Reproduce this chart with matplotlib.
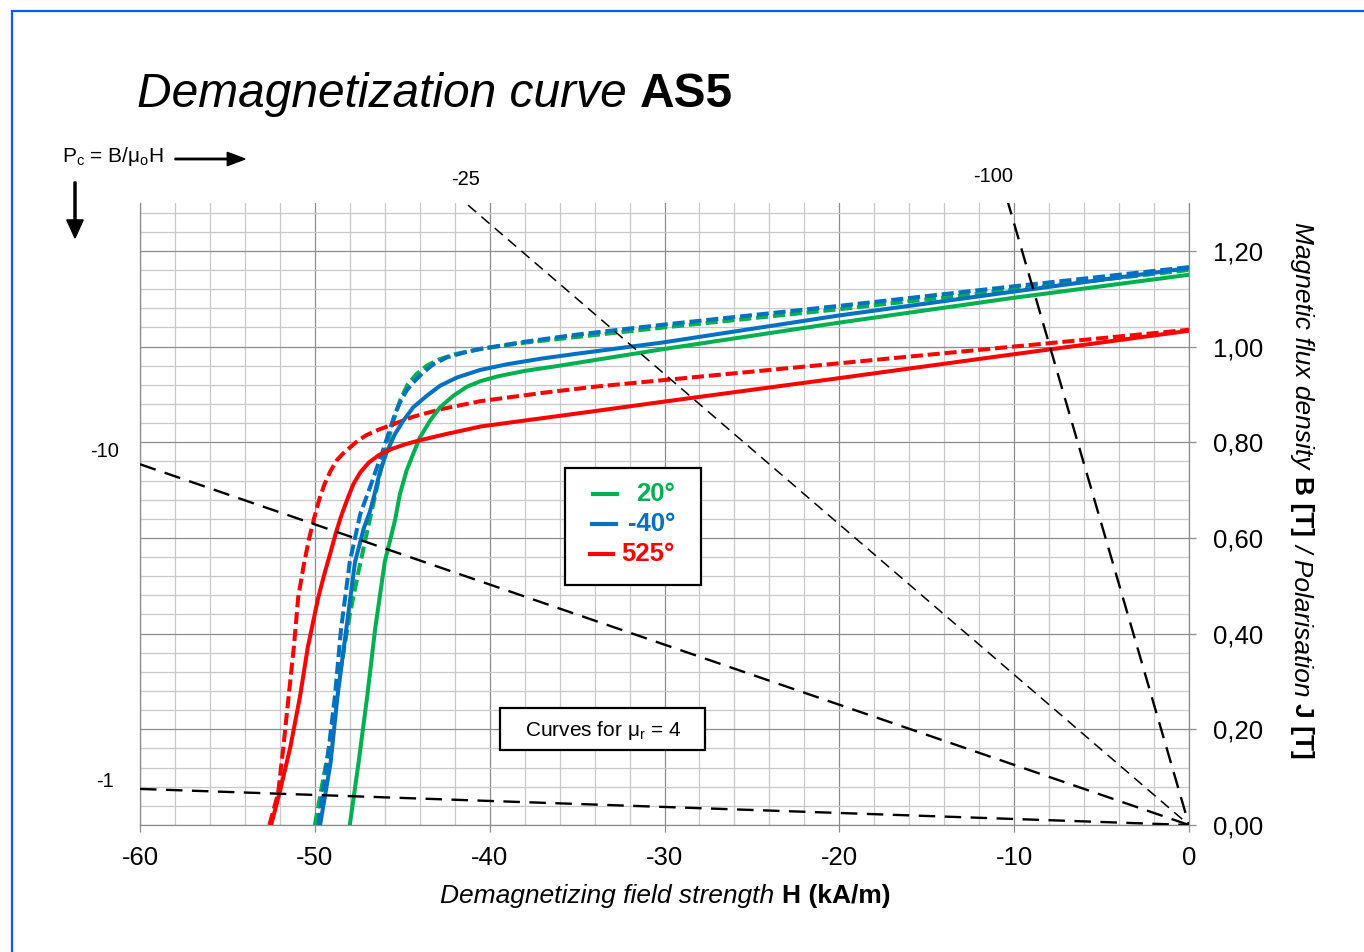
import numpy as np
import matplotlib
matplotlib.use("Agg")
import matplotlib.pyplot as plt
from matplotlib.patches import Rectangle, FancyArrow
from matplotlib.lines import Line2D
from matplotlib.ticker import MultipleLocator, FuncFormatter

plt.rcParams['font.family'] = ['Liberation Sans', 'DejaVu Sans']
plt.rcParams['mathtext.default'] = 'regular'
plt.rcParams['axes.unicode_minus'] = False

MU0 = 4e-7 * np.pi * 1e3   # T per kA/m

# ---- data (H in kA/m, B/J in T) ----
h_20_B = [-48.0, -47.5, -47.0, -46.55, -46.0, -45.42, -45.13, -44.75, -44.37, -43.99, -43.41,
          -42.84, -42.08, -41.3, -40.5, -39.5, -38.0, -36.0, -30.0, -20.0, -10.0, 0.0]
b_20_B = [0.0, 0.13, 0.27, 0.41, 0.55, 0.636, 0.692, 0.741, 0.776, 0.810, 0.845,
          0.873, 0.897, 0.916, 0.928, 0.938, 0.949, 0.960, 0.995, 1.05, 1.102, 1.150]

h_20_J = [-50.0, -49.5, -49.0, -48.55, -48.0, -47.5, -47.0, -46.6, -46.3, -45.9, -45.5,
          -45.1, -44.7, -44.2, -43.6, -42.9, -42.0, -40.5, -38.0, -35.0, -30.0, -20.0, -10.0, 0.0]
b_20_J = [0.0, 0.10, 0.20, 0.32, 0.44, 0.53, 0.615, 0.68, 0.73, 0.79, 0.845,
          0.89, 0.92, 0.942, 0.96, 0.973, 0.984, 0.995, 1.008, 1.020, 1.040, 1.078, 1.119, 1.160]

h_m40_B = [-49.7, -49.1, -48.7, -48.2, -47.7, -47.2, -46.85, -46.56, -46.28, -45.9, -45.42,
           -44.94, -44.37, -43.6, -42.84, -41.89, -40.55, -39.0, -37.0, -35.0, -30.0,
           -20.0, -10.0, 0.0]
b_m40_B = [0.0, 0.13, 0.27, 0.41, 0.55, 0.62, 0.655, 0.695, 0.738, 0.778, 0.817,
           0.845, 0.873, 0.897, 0.918, 0.935, 0.951, 0.963, 0.975, 0.985, 1.009,
           1.065, 1.115, 1.164]

h_m40_J = [-49.8, -49.3, -48.85, -48.5, -48.0, -47.4, -46.85, -46.47, -46.08, -45.7, -45.42,
           -45.13, -44.75, -44.37, -43.79, -43.22, -42.46, -41.51, -40.55, -38.0, -35.0,
           -30.0, -20.0, -10.0, 0.0]
b_m40_J = [0.0, 0.13, 0.27, 0.41, 0.55, 0.65, 0.705, 0.745, 0.785, 0.828, 0.859,
           0.883, 0.908, 0.925, 0.946, 0.963, 0.977, 0.987, 0.995, 1.010, 1.025,
           1.046, 1.085, 1.126, 1.166]

h_525_B = [-52.5, -52.0, -51.4, -50.85, -50.4, -49.8, -49.45, -49.1, -48.8, -48.5, -48.15,
           -47.8, -47.4, -46.9, -46.3, -45.6, -44.8, -44.0, -42.5, -40.5, -35.0, -30.0,
           -20.0, -10.0, 0.0]
b_525_B = [0.0, 0.07, 0.163, 0.268, 0.372, 0.476, 0.525, 0.57, 0.61, 0.645, 0.68,
           0.712, 0.737, 0.758, 0.774, 0.786, 0.796, 0.804, 0.817, 0.833, 0.860, 0.885,
           0.934, 0.984, 1.033]

h_525_J = [-52.6, -52.1, -51.8, -51.5, -51.2, -50.95, -50.65, -50.35, -50.05, -49.75, -49.45,
           -49.1, -48.75, -48.37, -47.99, -47.51, -47.04, -46.37, -45.7, -44.4, -42.8,
           -40.5, -37.0, -34.0, -30.0, -20.0, -10.0, 0.0]
b_525_J = [0.0, 0.066, 0.163, 0.268, 0.372, 0.476, 0.54, 0.595, 0.64, 0.68, 0.712,
           0.74, 0.762, 0.777, 0.789, 0.804, 0.815, 0.826, 0.835, 0.853, 0.869,
           0.886, 0.903, 0.916, 0.930, 0.965, 1.000, 1.035]

pc_values = [-1, -10, -25, -100]
pc_label_pos = [(-62.0, 0.09), (-62.0, 0.78), (-41.4, 1.35), (-11.2, 1.356)]

legend_labels = ['20°', '-40°', '525°']
GREEN, BLUE, RED = '#00B050', '#0070C0', '#FF0000'

W, Hpx = 1364, 952
fig = plt.figure(figsize=(W / 100, Hpx / 100), dpi=100)

def fx(px):
    return px / W

def fy(py):
    return 1 - py / Hpx

ax = fig.add_axes([fx(140), fy(825), fx(1189) - fx(140), fy(203) - fy(825)])
ax.set_xlim(-60, 0)
ax.set_ylim(0, 1.3)

# grid
ax.xaxis.set_major_locator(MultipleLocator(10))
ax.xaxis.set_minor_locator(MultipleLocator(2))
ax.yaxis.set_major_locator(MultipleLocator(0.2))
ax.yaxis.set_minor_locator(MultipleLocator(0.04))
ax.grid(which='minor', color='#c8c8c8', lw=0.9)
ax.grid(which='major', color='#8c8c8c', lw=0.9)
ax.set_axisbelow(True)

ax.yaxis.tick_right()
ax.yaxis.set_major_formatter(FuncFormatter(lambda v, p: f'{v:.2f}'.replace('.', ',')))
ax.tick_params(which='minor', length=0)
ax.tick_params(which='major', length=5, color='#8c8c8c', labelsize=18.5, width=0.9)
ax.tick_params(axis='x', pad=10)
ax.tick_params(axis='y', pad=12)
ax.spines['top'].set_visible(False)
for s in ['left', 'right', 'bottom']:
    ax.spines[s].set_color('#8c8c8c')
    ax.spines[s].set_linewidth(0.9)

# load lines Pc
pc_styles = {-1: (1.7, (0, (7, 4))), -10: (1.7, (0, (7, 4))),
             -25: (1.1, (0, (7, 4.5))), -100: (1.7, (0, (7, 4)))}
hh = np.array([-60.0, 0.0])
for pc, (lx, ly) in zip(pc_values, pc_label_pos):
    lw, ls = pc_styles[pc]
    ax.plot(hh, pc * MU0 * hh, color='black', lw=lw, linestyle=ls, zorder=4)
    ax.text(lx, ly, str(pc), fontsize=14.5, ha='center', va='center', clip_on=False)

# demagnetization curves
dash = (0, (3, 1.2))
lwc = 2.9
ax.plot(h_20_J, b_20_J, color=GREEN, lw=lwc, linestyle=dash, zorder=3)
ax.plot(h_m40_J, b_m40_J, color=BLUE, lw=lwc, linestyle=dash, zorder=3)
ax.plot(h_525_J, b_525_J, color=RED, lw=lwc, linestyle=dash, zorder=3)
ax.plot(h_20_B, b_20_B, color=GREEN, lw=lwc, zorder=3)
ax.plot(h_m40_B, b_m40_B, color=BLUE, lw=lwc, zorder=3)
ax.plot(h_525_B, b_525_B, color=RED, lw=lwc, zorder=3)

# legend box (drawn by hand to match the layout)
fig.patches.append(Rectangle((fx(565), fy(585)), fx(701) - fx(565), fy(468) - fy(585),
                             transform=fig.transFigure, facecolor='white',
                             edgecolor='black', lw=1.6, zorder=5))
leg_x = [(593, 617), (592, 616), (590, 613)]
for i, (lab, col) in enumerate(zip(legend_labels, [GREEN, BLUE, RED])):
    yy = fy(494 + 30 * i)
    fig.lines.append(Line2D([fx(leg_x[i][0]), fx(leg_x[i][1])], [yy, yy], color=col, lw=3,
                            transform=fig.transFigure, zorder=6))
    fig.text(fx(675), yy, lab, color=col, fontsize=18.5, fontweight='bold',
             ha='right', va='center', zorder=6)

# "Curves for mu_r = 4" box
fig.patches.append(Rectangle((fx(500), fy(750)), fx(705) - fx(500), fy(708) - fy(750),
                             transform=fig.transFigure, facecolor='white',
                             edgecolor='black', lw=1.6, zorder=5))
fig.text(fx(603), fy(730), 'Curves for μ$_r$ = 4', fontsize=15, ha='center',
         va='center', zorder=6)

renderer = fig.canvas.get_renderer()

def chain_h(x0, ybase, parts, size):
    x = x0
    for s, kw in parts:
        t = fig.text(fx(x), fy(ybase), s, fontsize=size, ha='left', va='baseline', **kw)
        bb = t.get_window_extent(renderer)
        x = x + bb.width + 0.28 * size * 100 / 72

def chain_v(xc, ytop, parts, size):
    y = ytop
    for s, kw in parts:
        t = fig.text(fx(xc), fy(y), s, fontsize=size, rotation=-90,
                     ha='center', va='top', **kw)
        bb = t.get_window_extent(renderer)
        y = y + bb.height + 0.28 * size * 100 / 72

# title
chain_h(137, 107, [('Demagnetization curve', dict(style='italic')),
                   ('AS5', dict(fontweight='bold'))], 34.5)

# x label
chain_h(440, 903, [('Demagnetizing field strength', dict(style='italic')),
                   ('H (kA/m)', dict(fontweight='bold'))], 19)

# right label (reads top to bottom)
chain_v(1302, 222, [('Magnetic flux density', dict(style='italic')),
                    ('B [T]', dict(fontweight='bold')),
                    ('/ Polarisation', dict(style='italic')),
                    ('J [T]', dict(fontweight='bold'))], 19)

# Pc annotation with arrows
fig.text(fx(62), fy(162), 'P$_c$ = B/μ$_o$H', fontsize=15, ha='left', va='baseline')
fig.patches.append(FancyArrow(fx(175), fy(159), fx(245) - fx(175), 0,
                              width=0.0015, head_width=0.014, head_length=0.013,
                              length_includes_head=True, color='black',
                              transform=fig.transFigure))
fig.patches.append(FancyArrow(fx(75), fy(182), 0, fy(238) - fy(182),
                              width=0.0015, head_width=0.012, head_length=0.019,
                              length_includes_head=True, color='black',
                              transform=fig.transFigure))

# blue frame
fig.patches.append(Rectangle((fx(12), fy(Hpx + 20)), fx(W + 20), fy(11) - fy(Hpx + 20),
                             transform=fig.transFigure, fill=False,
                             edgecolor='#0A5AFF', lw=1.6))

fig.savefig('out.png', dpi=100)
